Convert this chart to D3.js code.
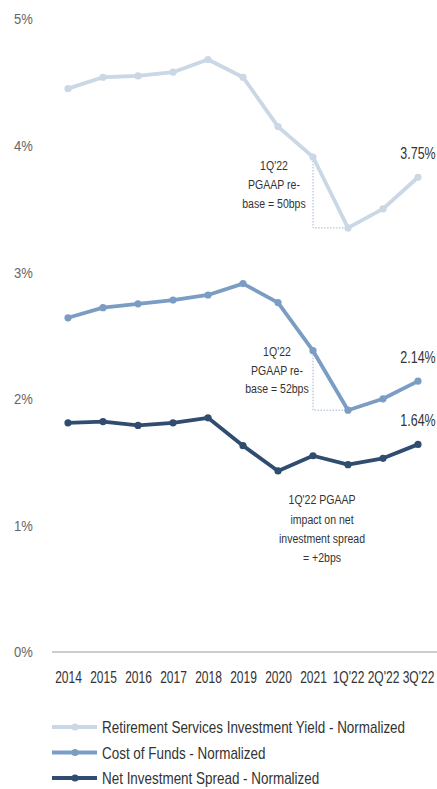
<!DOCTYPE html>
<html>
<head>
<meta charset="utf-8">
<script src="https://cdn.jsdelivr.net/npm/d3@7"></script>
<style>
  body { margin: 0; background: #fff; }
  text { font-family: "Liberation Sans", Arial, sans-serif; }
</style>
</head>
<body>
<svg id="chart" width="437" height="789"></svg>
<script>
// data
var periods = ["2014","2015","2016","2017","2018","2019","2020","2021","1Q'22","2Q'22","3Q'22"];
var yieldVals = [4.45, 4.54, 4.55, 4.58, 4.68, 4.54, 4.15, 3.91, 3.35, 3.50, 3.75];
var costVals  = [2.64, 2.72, 2.75, 2.78, 2.82, 2.91, 2.76, 2.38, 1.91, 2.00, 2.14];
var spreadVals= [1.81, 1.82, 1.79, 1.81, 1.85, 1.63, 1.43, 1.55, 1.48, 1.53, 1.64];
var yTicks = [0, 1, 2, 3, 4, 5];
var seriesNames = ["Retirement Services Investment Yield - Normalized",
                   "Cost of Funds - Normalized",
                   "Net Investment Spread - Normalized"];
var seriesColors = ["#cad7e5", "#7b9dc4", "#304c6e"];
var endLabels = ["3.75%", "2.14%", "1.64%"];

var svg = d3.select("#chart");

var x = d3.scalePoint().domain(periods).range([68, 418]);
var y = d3.scaleLinear().domain([0, 5]).range([652, 19]);

// the source uses a narrow font, so squeeze the text sideways
var SQ = 0.77;
function narrowText(parent, tx, ty, str, size, sx) {
    return parent.append("text")
        .attr("transform", "translate(" + tx + "," + ty + ") scale(" + (sx || SQ) + ",1)")
        .attr("dominant-baseline", "central")
        .attr("font-size", size)
        .attr("fill", "#333")
        .text(str);
}

//y labels, no axis line
yTicks.forEach(function(d) {
    narrowText(svg, 14, y(d), d + "%", 15.5, 0.84).attr("fill", "#666");
});

//baseline
svg.append("line")
    .attr("x1", 52).attr("x2", 437)
    .attr("y1", y(0)).attr("y2", y(0))
    .attr("stroke", "#999").attr("stroke-width", 1.2);

//x axis labels
var xAxis = svg.append("g")
    .attr("transform", "translate(0," + (y(0) + 25) + ")")
    .call(d3.axisBottom(x).tickSize(0).tickPadding(0));
xAxis.select(".domain").remove();
xAxis.selectAll("text")
    .attr("font-size", 16)
    .attr("fill", "#333")
    .attr("dy", "0.35em")
    .attr("y", 0)
    .attr("transform", "scale(0.75,1)");

//dotted rebase guides
function guide(vals) {
    var x1 = x("2021"), x2 = x("1Q'22");
    var p = d3.path();
    p.moveTo(x1, y(vals[7]) + 4);
    p.lineTo(x1, y(vals[8]));
    p.lineTo(x2, y(vals[8]));
    svg.append("path")
        .attr("d", p.toString())
        .attr("fill", "none")
        .attr("stroke", "#9fb6d4")
        .attr("stroke-width", 1)
        .attr("stroke-dasharray", "1.5,1.5");
}
guide(yieldVals);
guide(costVals);

var line = d3.line()
    .x(function(d, i) { return x(periods[i]); })
    .y(function(d) { return y(d); });

var allSeries = [yieldVals, costVals, spreadVals];
allSeries.forEach(function(vals, k) {
    svg.append("path")
        .datum(vals)
        .attr("d", line)
        .attr("fill", "none")
        .attr("stroke", seriesColors[k])
        .attr("stroke-width", 3.8)
        .attr("stroke-linejoin", "round");
    svg.append("g").selectAll("circle")
        .data(vals)
        .enter().append("circle")
        .attr("cx", function(d, i) { return x(periods[i]); })
        .attr("cy", function(d) { return y(d); })
        .attr("r", 3.6)
        .attr("fill", seriesColors[k]);
    //end value label
    narrowText(svg, x(periods[periods.length - 1]), y(vals[vals.length - 1]) - 24, endLabels[k], 16, 0.78)
        .attr("text-anchor", "middle");
});

//annotations
function note(lines, cx, top, gap) {
    lines.forEach(function(d, i) {
        narrowText(svg, cx, top + i * gap, d, 13.5, 0.78).attr("text-anchor", "middle");
    });
}
note(["1Q'22", "PGAAP re-", "base = 50bps"], 274, 166, 19);
note(["1Q'22", "PGAAP re-", "base = 52bps"], 277, 352, 18.5);
note(["1Q'22 PGAAP", "impact on net", "investment spread", "= +2bps"], 322, 500, 19.3);

//legend
var legend = svg.append("g");
seriesNames.forEach(function(name, k) {
    var ly = 727 + k * 25.5;
    legend.append("line")
        .attr("x1", 52).attr("x2", 97)
        .attr("y1", ly).attr("y2", ly)
        .attr("stroke", seriesColors[k]).attr("stroke-width", 3.8);
    legend.append("circle")
        .attr("cx", 75).attr("cy", ly).attr("r", 3.6)
        .attr("fill", seriesColors[k]);
    narrowText(legend, 102, ly, name, 16.8, 0.8);
});
</script>
</body>
</html>
